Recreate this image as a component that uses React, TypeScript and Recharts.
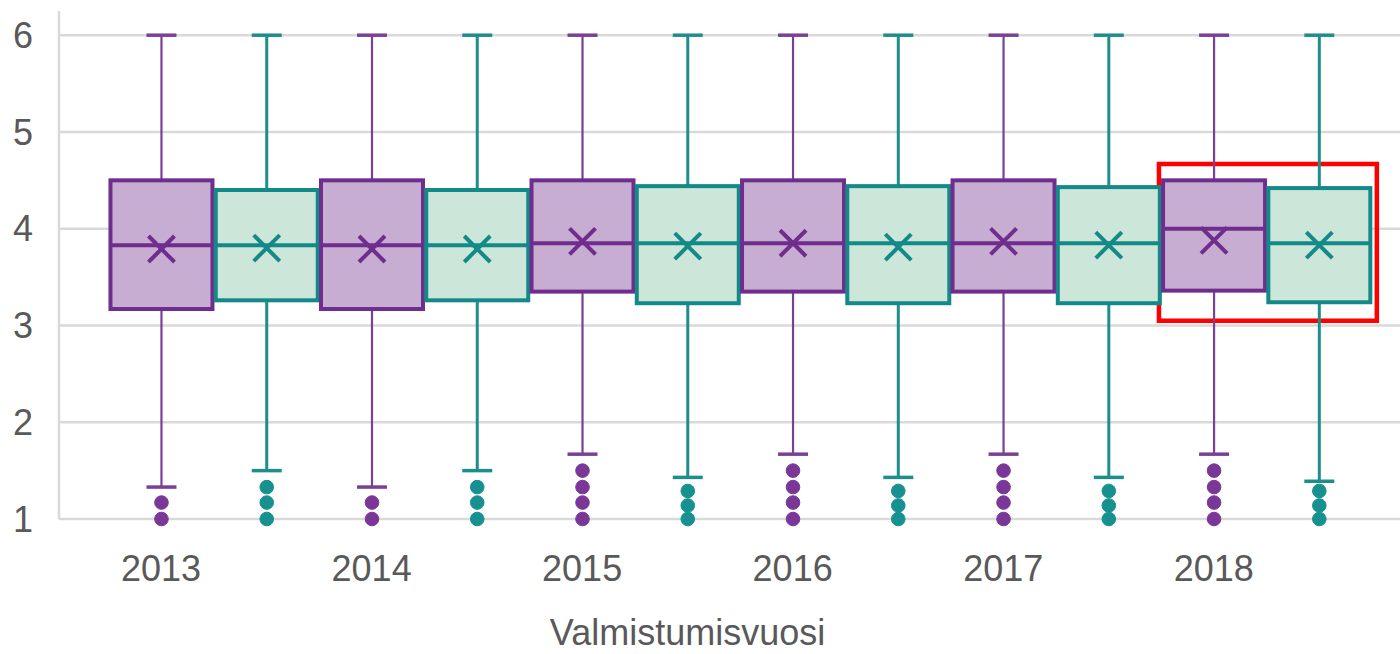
import React from 'react';
import { ComposedChart, Bar, XAxis, YAxis, CartesianGrid, ReferenceArea } from 'recharts';

// Categories
const years = ['2013', '2014', '2015', '2016', '2017', '2018'];
const yTicks = [1, 2, 3, 4, 5, 6];

// Series A (purple)
const aLow = [1.33, 1.33, 1.67, 1.67, 1.67, 1.67];
const aQ1 = [3.17, 3.17, 3.35, 3.35, 3.35, 3.36];
const aMedian = [3.83, 3.83, 3.85, 3.85, 3.85, 4.0];
const aQ3 = [4.5, 4.5, 4.5, 4.5, 4.5, 4.5];
const aHigh = [6, 6, 6, 6, 6, 6];
const aMean = [3.79, 3.79, 3.87, 3.85, 3.87, 3.88];
const aOutliers = [
  [1.17, 1.0],
  [1.17, 1.0],
  [1.5, 1.33, 1.17, 1.0],
  [1.5, 1.33, 1.17, 1.0],
  [1.5, 1.33, 1.17, 1.0],
  [1.5, 1.33, 1.17, 1.0],
];

// Series B (teal)
const bLow = [1.5, 1.5, 1.43, 1.43, 1.43, 1.39];
const bQ1 = [3.26, 3.26, 3.23, 3.23, 3.23, 3.24];
const bMedian = [3.83, 3.83, 3.85, 3.85, 3.85, 3.85];
const bQ3 = [4.4, 4.4, 4.44, 4.44, 4.43, 4.42];
const bHigh = [6, 6, 6, 6, 6, 6];
const bMean = [3.8, 3.79, 3.82, 3.81, 3.83, 3.83];
const bOutliers = [
  [1.33, 1.17, 1.0],
  [1.33, 1.17, 1.0],
  [1.29, 1.14, 1.0],
  [1.29, 1.14, 1.0],
  [1.29, 1.14, 1.0],
  [1.29, 1.14, 1.0],
];

// Highlight annotation (data units)
const highlightX = [9.48, 11.55];
const highlightY = [3.05, 4.67];

const styles = {
  A: { stroke: '#6F2D8D', fill: '#C8ADD3', whisker: '#7A4096', dot: '#7B3798', ww: 2.2 },
  B: { stroke: '#138A88', fill: '#CCE6DA', whisker: '#1E8E8C', dot: '#17918F', ww: 3 },
};

const tableRows = years.flatMap((year, i) => [
  {
    pos: i * 2,
    series: 'A',
    year,
    range: [aLow[i], aHigh[i]],
    low: aLow[i], q1: aQ1[i], median: aMedian[i], q3: aQ3[i], high: aHigh[i], mean: aMean[i],
    outliers: aOutliers[i],
  },
  {
    pos: i * 2 + 1,
    series: 'B',
    year,
    range: [bLow[i], bHigh[i]],
    low: bLow[i], q1: bQ1[i], median: bMedian[i], q3: bQ3[i], high: bHigh[i], mean: bMean[i],
    outliers: bOutliers[i],
  },
]);

const BoxShape = (props: any) => {
  const { x, y, width, height, payload } = props;
  if (payload == null || height == null) return null;
  const { low, high, q1, q3, median, mean, outliers, series } = payload;
  const st = (styles as any)[series];
  const py = (v: number) => y + (height * (high - v)) / (high - low);
  const cx = x + width / 2;
  const cap = 15;
  const m = 13;
  const yMean = py(mean);
  return (
    <g>
      <line x1={cx} x2={cx} y1={py(high)} y2={py(q3)} stroke={st.whisker} strokeWidth={st.ww} />
      <line x1={cx} x2={cx} y1={py(q1)} y2={py(low)} stroke={st.whisker} strokeWidth={st.ww} />
      <line x1={cx - cap} x2={cx + cap} y1={py(high)} y2={py(high)} stroke={st.whisker} strokeWidth={3.5} />
      <line x1={cx - cap} x2={cx + cap} y1={py(low)} y2={py(low)} stroke={st.whisker} strokeWidth={3.5} />
      <rect x={x} y={py(q3)} width={width} height={py(q1) - py(q3)} fill={st.fill} stroke={st.stroke} strokeWidth={4} />
      <line x1={x} x2={x + width} y1={py(median)} y2={py(median)} stroke={st.stroke} strokeWidth={4} />
      <line x1={cx - m} x2={cx + m} y1={yMean - m} y2={yMean + m} stroke={st.stroke} strokeWidth={4} />
      <line x1={cx - m} x2={cx + m} y1={yMean + m} y2={yMean - m} stroke={st.stroke} strokeWidth={4} />
      {outliers.map((o: number, k: number) => (
        <circle key={k} cx={cx} cy={py(o)} r={6.8} fill={st.dot} stroke={st.dot} strokeWidth={1} />
      ))}
    </g>
  );
};

const tickStyle = { fontFamily: '"Liberation Sans", Arial, sans-serif', fontSize: 36, fill: '#595959' };

export default function App() {
  return (
    <div style={{ position: 'absolute', left: 0, top: 0, background: '#fff' }}>
      <ComposedChart
        width={1400}
        height={654}
        data={tableRows}
        margin={{ top: 11, right: 0, bottom: 0, left: 0 }}
      >
        <CartesianGrid horizontal vertical={false} stroke="#D9D9D9" strokeWidth={2.5} syncWithTicks />
        <XAxis
          dataKey="pos"
          type="number"
          domain={[-0.97, 11.77]}
          ticks={[0, 2, 4, 6, 8, 10]}
          tickFormatter={(v: number) => years[Math.round(v / 2)]}
          interval={0}
          height={135}
          axisLine={false}
          tickLine={false}
          tickMargin={30}
          tick={tickStyle}
          label={{
            value: 'Valmistumisvuosi',
            position: 'insideBottom',
            offset: 9,
            dx: -42,
            style: tickStyle,
          }}
        />
        <YAxis
          type="number"
          domain={[1, 6.25]}
          ticks={yTicks}
          width={59}
          axisLine={{ stroke: '#D9D9D9', strokeWidth: 2.5 }}
          tickLine={false}
          tickMargin={20}
          tick={tickStyle}
        />
        <Bar dataKey="range" barSize={102} isAnimationActive={false} shape={(p: any) => <BoxShape {...p} />} />
        <ReferenceArea
          x1={highlightX[0]}
          x2={highlightX[1]}
          y1={highlightY[0]}
          y2={highlightY[1]}
          fill="none"
          fillOpacity={0}
          stroke="#FF0000"
          strokeWidth={4.5}
          ifOverflow="visible"
        />
      </ComposedChart>
    </div>
  );
}
